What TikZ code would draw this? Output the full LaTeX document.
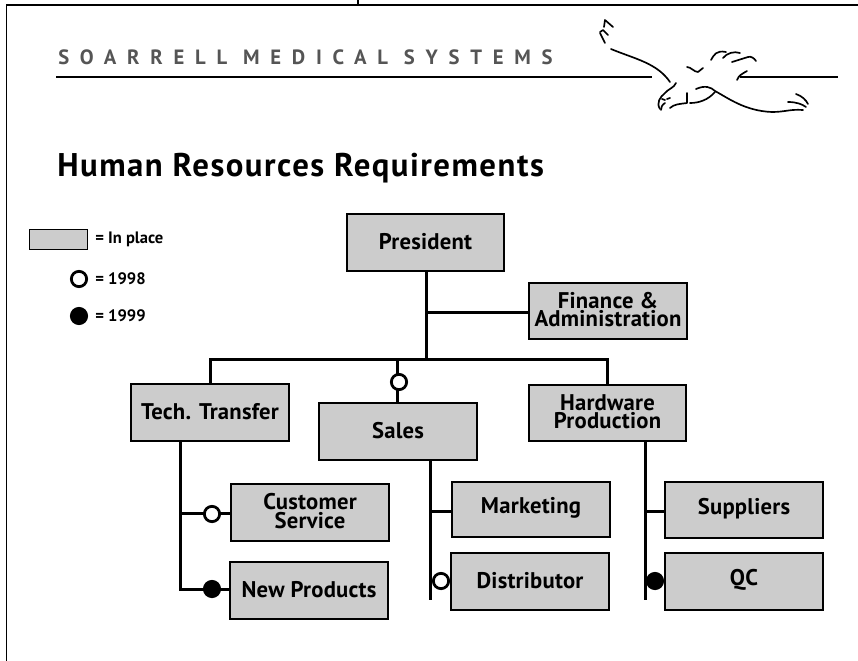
\documentclass[tikz,border=0pt]{standalone}
\usepackage{fontspec}
\setmainfont{PT Sans}
\definecolor{boxgray}{HTML}{CCCCCC}
\definecolor{headgray}{HTML}{555555}
\tikzset{
  x=0.75pt,y=-0.75pt,
  orgbox/.style={draw=black,line width=1pt,fill=boxgray,inner sep=0pt},
  boxtext/.style={inner sep=0pt,align=center,yshift=1pt,font=\fontsize{17}{14}\selectfont\bfseries\addfontfeature{LetterSpace=1}},
  link/.style={draw=black,line width=2.25pt},
  openmark/.style={circle,draw=black,line width=2.1pt,fill=white,minimum size=11.5pt,inner sep=0pt},
  fullmark/.style={circle,draw=black,line width=2.1pt,fill=black,minimum size=11.5pt,inner sep=0pt},
  legendtext/.style={anchor=west,inner sep=0pt,font=\fontsize{12.4}{14}\selectfont\bfseries},
  rule/.style={draw=black,line width=1pt},
  pen/.style={draw=black,line width=1.25pt,line cap=round,line join=round,fill=none},
}
\newcommand{\obox}[6]{\node[orgbox,minimum width=#4*0.75pt,minimum height=#5*0.75pt,label={[boxtext]center:{#6}}] (#1) at (#2,#3) {};}
\begin{document}
\begin{tikzpicture}
\useasboundingbox (0,0) rectangle (858,661);
\fill[white] (0,0) rectangle (858,661);
% frame
\coordinate (fa) at (6.5,661); \coordinate (fb) at (6.5,5); \coordinate (fc) at (858,5);
\coordinate (ta) at (358,0); \coordinate (tb) at (358,5);
\draw[rule] (fa)--(fb)--(fc);
\draw[rule] (ta)--(tb);
% header
\coordinate (ra) at (56,77); \coordinate (rb) at (652,77); \coordinate (rc) at (740,77); \coordinate (rd) at (838,77);
\draw[rule,line width=0.8pt] (ra)--(rb); \draw[rule,line width=0.8pt] (rc)--(rd);
\node[anchor=base west,inner sep=0pt,text=headgray,font=\fontsize{15.5}{15.5}\selectfont\bfseries] (head) at (58,64) {\addfontfeature{LetterSpace=52}SOARRELL MEDICAL SYSTEMS};
\node[anchor=base west,inner sep=0pt,font=\fontsize{24.6}{25}\selectfont\bfseries] (title) at (57,176) {\addfontfeature{LetterSpace=4.6}Human Resources Requirements};
% eagle
\draw[pen] (604,27) -- (605,20) -- (613,27);
\draw[pen] (600,32) -- (603,30) -- (608,35);
\draw[pen] (600,33) -- (605,43);
\draw[pen] (611,49) .. controls (635,59) and (657,63) .. (670,82);
\draw[pen] (687,67) .. controls (691,67) and (694,72) .. (698,72) -- (703,68);
\draw[pen] (711,60) .. controls (714,55) and (716,50) .. (726,52);
\draw[pen] (723,58) .. controls (727,53) and (734,51) .. (740,53);
\draw[pen] (732,62) -- (748,57) .. controls (751,56) and (754,58) .. (756,61);
\draw[pen] (737,80) .. controls (739,75) and (742,74) .. (747,71);
\draw[pen] (676,83) .. controls (674,88) and (668,89) .. (665,93) .. controls (660,97) and (656,103) .. (660,109);
\draw[pen] (662,99) -- (665,100);
\draw[pen] (667,99) -- (670,98);
\draw[pen] (665,103) .. controls (662,105) and (661,107) .. (661,110);
\draw[pen] (670,108) .. controls (674,104) and (680,104) .. (687,103) -- (687,93);
\draw[pen] (690,103) .. controls (699,103) and (708,100) .. (715,92);
\draw[pen] (696,89) .. controls (705,85) and (711,87) .. (715,91) .. controls (728,98) and (745,111) .. (772,112) .. controls (785,112) and (790,109) .. (803,110);
\draw[pen] (788,102) .. controls (796,102) and (802,104) .. (806,107);
\draw[pen] (796,94) .. controls (802,96) and (806,100) .. (808,104);
% legend
\node[draw=black,line width=0.75pt,fill=boxgray,minimum width=44pt,minimum height=15.5pt,inner sep=0pt] (lgbox) at (58.5,239.5) {};
\node[legendtext] (lg1) at (95,239) {= In place};
\node[openmark] (lgo) at (79,279) {};
\node[legendtext] (lg2) at (95,279) {= 1998};
\node[fullmark] (lgf) at (79,316) {};
\node[legendtext] (lg3) at (95,316) {= 1999};
% boxes
\obox{pres}{425.5}{242.5}{157}{57}{President}
\obox{fin}{608}{311}{158}{56}{Finance \&\\Administration}
\obox{tech}{210}{412.5}{158}{57}{Tech. Transfer}
\obox{sales}{398}{431.5}{158}{57}{Sales}
\obox{hard}{607.5}{413}{157}{56}{Hardware\\Production}
\obox{cust}{310}{512.5}{158}{57}{Customer\\Service}
\obox{newp}{309}{590.5}{158}{57}{New Products}
\obox{mark}{531}{509.5}{158}{55}{Marketing}
\obox{dist}{530}{581.5}{158}{57}{Distributor}
\obox{supp}{744}{510}{158}{56}{Suppliers}
\obox{qc}{744}{581.5}{158}{57}{QC}
% connector points
\coordinate (busl) at (210,359); \coordinate (busc) at (426,359); \coordinate (buss) at (397,359); \coordinate (busr) at (607,359);
\coordinate (jf) at (426,312);
\coordinate (jc) at (180,513); \coordinate (jn) at (180,589);
\coordinate (jm) at (430,511); \coordinate (se) at (430,600);
\coordinate (js) at (645,511); \coordinate (he) at (645,600);
\draw[link] (pres.south -| busc) -- (busc);
\draw[link] (jf) -- (jf -| fin.west);
\draw[link] (tech.north -| busl) |- (busr) -- (busr |- hard.north);
\draw[link] (buss) -- (buss |- sales.north);
\draw[link] (tech.south -| jc) -- (jn) -- (jn -| newp.west);
\draw[link] (jc) -- (jc -| cust.west);
\draw[link] (sales.south -| jm) -- (se);
\draw[link] (jm) -- (jm -| mark.west);
\draw[link] (hard.south -| js) -- (he);
\draw[link] (js) -- (js -| supp.west);
% status marks
\node[openmark] (ms) at (399,382) {};
\node[openmark] (mc) at (212,514) {};
\node[fullmark] (mn) at (212,589) {};
\node[openmark] (md) at (441,581) {};
\node[fullmark] (mq) at (655,581) {};
\end{tikzpicture}
\end{document}
